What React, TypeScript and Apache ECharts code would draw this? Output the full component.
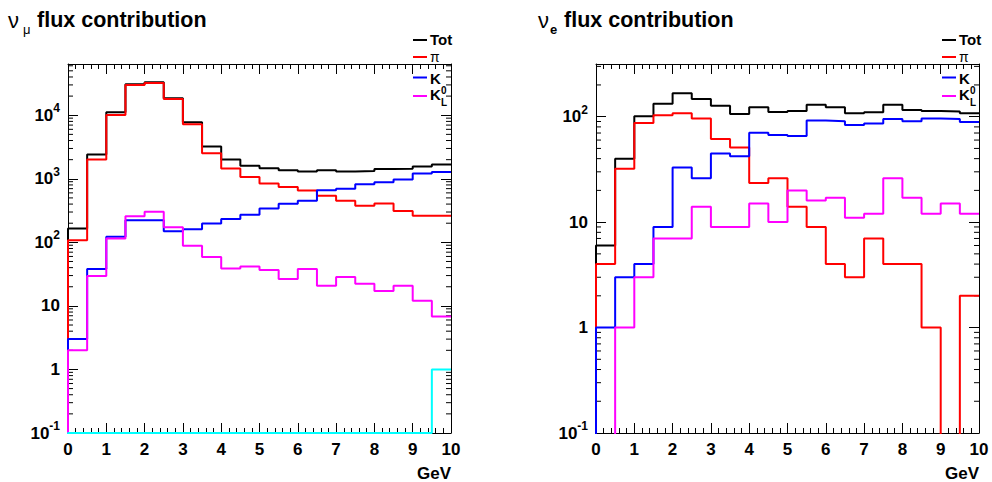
import React, { useEffect, useRef } from 'react';
import * as echarts from 'echarts';

// ---- data (bin low edges in GeV, 0.5 GeV bins) ----
const binLow = [0, 0.5, 1, 1.5, 2, 2.5, 3, 3.5, 4, 4.5, 5, 5.5, 6, 6.5, 7, 7.5, 8, 8.5, 9, 9.5];
const binHigh = 10;

// nu_mu panel
const numuTot = [165, 2410, 11100, 30700, 33000, 18500, 7760, 3220, 2010, 1600, 1470, 1365, 1300, 1365, 1300, 1330, 1430, 1440, 1560, 1680];
const numuPi = [108, 2010, 10100, 30000, 32200, 18000, 7210, 2530, 1450, 1070, 844, 746, 655, 540, 450, 375, 409, 310, 261, 261];
const numuK = [3, 38, 122, 223, 223, 150, 160, 198, 234, 271, 341, 403, 450, 662, 694, 822, 885, 975, 1210, 1280];
const numuK0L = [2, 29.5, 115, 258, 302, 173, 88, 59, 38.9, 41.8, 36.6, 26.4, 38, 20.7, 28.4, 22.3, 17.1, 20.7, 12, 6.84];
const numuOther = [0.1, 0.1, 0.1, 0.1, 0.1, 0.1, 0.1, 0.1, 0.1, 0.1, 0.1, 0.1, 0.1, 0.1, 0.1, 0.1, 0.1, 0.1, 0.1, 1];

// nu_e panel
const nueTot = [6, 40, 101, 133, 167, 147, 127, 106, 123, 111, 113, 130, 123, 108, 110, 130, 116, 113, 112, 108];
const nuePi = [4, 32, 87, 103, 108, 96, 61.5, 51, 23.5, 26, 14, 9, 4, 3, 7, 4, 4, 1, 0, 2];
const nueK = [1, 3, 4, 9, 33, 26, 44.7, 42.2, 70.6, 67.1, 65.7, 91.9, 90.6, 83.5, 86, 95.3, 90.6, 96, 95, 89];
const nueK0L = [0, 1, 3, 7, 7, 14, 9, 9, 15, 10, 20, 16, 17, 11, 12, 26, 17, 12, 15, 12];

const legendNames = ['Tot', 'π', 'K', 'K'];
const legendColors = ['#000000', '#ff0000', '#0000ff', '#ff00ff'];
const otherColor = '#00ffff';

const yMinBoth = 0.1;
const yMaxLeft = 64000;
const yMaxRight = 316;
const xMin = 0;
const xMax = 10;

const FONT = '"Liberation Sans", Arial, Helvetica, sans-serif';

function stepData(vals: number[]) {
  const below = 0.01; // empty bins fall below the frame, as ROOT clips them
  const pts: number[][] = [[binLow[0], below]];
  vals.forEach((v, i) => pts.push([binLow[i], v > 0 ? v : below]));
  const last = vals[vals.length - 1];
  pts.push([binHigh, last > 0 ? last : below]);
  return pts;
}

function yLabel(v: number) {
  const e = Math.log10(v);
  const r = Math.round(e);
  if (Math.abs(e - r) > 1e-6) return '';
  if (r === 0) return '{b|1}';
  if (r === 1) return '{b|10}';
  return '{b|10}{s|' + r + '}';
}

function minorVals(max: number) {
  const out: number[][] = [];
  for (let d = -1; d <= 5; d++) {
    for (let m = 2; m <= 9; m++) {
      const v = m * Math.pow(10, d);
      if (v > yMinBoth && v < max) out.push([xMin, v]);
    }
  }
  return out;
}

const App: React.FC = () => {
  const ref = useRef<HTMLDivElement>(null);
  useEffect(() => {
    if (!ref.current) return;
    const chart = echarts.init(ref.current, undefined, { renderer: 'svg' });

    const gridDefs = [
      { left: 68, top: 64, width: 383, height: 369 },
      { left: 596, top: 64, width: 383, height: 369 },
    ];
    const axisLineStyle = { color: '#000', width: 1 };

    const xAxes: any[] = [];
    const yAxes: any[] = [];
    [0, 1].forEach((g) => {
      const yMax = g === 0 ? yMaxLeft : yMaxRight;
      xAxes.push({
        type: 'value', gridIndex: g, position: 'bottom', min: xMin, max: xMax, interval: 1,
        axisLine: { show: true, onZero: false, lineStyle: axisLineStyle },
        axisTick: { show: true, inside: true, length: 10, lineStyle: { color: '#000', width: 1 } },
        minorTick: { show: true, splitNumber: 5, length: 5, lineStyle: { color: '#000', width: 1 } },
        splitLine: { show: false },
        axisLabel: { show: true, margin: 8, color: '#000', fontFamily: FONT, fontWeight: 'bold', fontSize: 17 },
        name: 'GeV', nameLocation: 'end', nameGap: 0,
        nameTextStyle: { color: '#000', fontFamily: FONT, fontWeight: 'bold', fontSize: 17, align: 'right', verticalAlign: 'top', padding: [32, 0, 0, 0] },
      });
      xAxes.push({
        type: 'value', gridIndex: g, position: 'top', min: xMin, max: xMax, interval: 1,
        axisLine: { show: true, onZero: false, lineStyle: axisLineStyle },
        axisTick: { show: true, inside: true, length: 10, lineStyle: { color: '#000', width: 1 } },
        minorTick: { show: true, splitNumber: 5, length: 5, lineStyle: { color: '#000', width: 1 } },
        splitLine: { show: false },
        axisLabel: { show: false },
      });
      yAxes.push({
        type: 'log', logBase: 10, gridIndex: g, position: 'left', min: yMinBoth, max: yMax, interval: 1,
        axisLine: { show: true, onZero: false, lineStyle: axisLineStyle },
        axisTick: { show: true, inside: true, length: 10, lineStyle: { color: '#000', width: 1 } },
        splitLine: { show: false },
        axisLabel: {
          show: true, margin: 8, showMaxLabel: false,
          formatter: yLabel,
          rich: {
            b: { fontFamily: FONT, fontWeight: 'bold', fontSize: 17, lineHeight: 26, color: '#000' },
            s: { fontFamily: FONT, fontWeight: 'bold', fontSize: 12, lineHeight: 12, verticalAlign: 'top', color: '#000' },
          },
        },
      });
      yAxes.push({
        type: 'log', logBase: 10, gridIndex: g, position: 'right', min: yMinBoth, max: yMax, interval: 1,
        axisLine: { show: true, onZero: false, lineStyle: axisLineStyle },
        axisTick: { show: true, inside: true, length: 10, lineStyle: { color: '#000', width: 1 } },
        splitLine: { show: false },
        axisLabel: { show: false },
      });
    });

    const mk = (name: string, vals: number[], color: string, g: number, z: number) => ({
      type: 'line', name, step: 'end', data: stepData(vals),
      xAxisIndex: g * 2, yAxisIndex: g * 2,
      symbol: 'none', showSymbol: false, clip: true, silent: true, z,
      lineStyle: { color, width: 2 },
    });

    const minorTickSeries = (g: number, max: number) => ({
      type: 'custom', xAxisIndex: g * 2, yAxisIndex: g * 2, silent: true, clip: false, z: 1,
      data: minorVals(max),
      renderItem: (params: any, api: any) => {
        const v = api.value(1);
        const pl = api.coord([xMin, v]);
        const pr = api.coord([xMax, v]);
        return {
          type: 'group',
          children: [
            { type: 'line', shape: { x1: pl[0], y1: pl[1], x2: pl[0] + 5, y2: pl[1] }, style: { stroke: '#000', lineWidth: 1 } },
            { type: 'line', shape: { x1: pr[0], y1: pr[1], x2: pr[0] - 5, y2: pr[1] }, style: { stroke: '#000', lineWidth: 1 } },
          ],
        };
      },
    });

    const series: any[] = [
      minorTickSeries(0, yMaxLeft),
      minorTickSeries(1, yMaxRight),
      mk('Tot', numuTot, legendColors[0], 0, 3),
      mk('π', numuPi, legendColors[1], 0, 4),
      mk('K', numuK, legendColors[2], 0, 5),
      mk('K0L', numuK0L, legendColors[3], 0, 6),
      mk('other', numuOther, otherColor, 0, 7),
      mk('Tot', nueTot, legendColors[0], 1, 3),
      mk('π', nuePi, legendColors[1], 1, 4),
      mk('K', nueK, legendColors[2], 1, 5),
      mk('K0L', nueK0L, legendColors[3], 1, 6),
    ];

    const legendGraphic = (x0: number) => {
      const ys = [40, 57, 77.5, 96];
      const textY = [39.5, 56.5, 78, 94];
      const sizes = [15, 14, 15, 15];
      const els: any[] = [];
      legendNames.forEach((n, i) => {
        els.push({ type: 'line', shape: { x1: x0, y1: ys[i], x2: x0 + 14, y2: ys[i] }, style: { stroke: legendColors[i], lineWidth: 2 } });
        els.push({
          type: 'text', x: x0 + 17, y: textY[i],
          style: { text: n, fill: '#000', font: (i === 1 ? 'normal ' : 'bold ') + sizes[i] + 'px ' + FONT, verticalAlign: 'middle', align: 'left' },
        });
      });
      els.push({ type: 'text', x: x0 + 28, y: 90, style: { text: '0', fill: '#000', font: 'bold 10px ' + FONT, verticalAlign: 'middle', align: 'left' } });
      els.push({ type: 'text', x: x0 + 28, y: 102, style: { text: 'L', fill: '#000', font: 'bold 10px ' + FONT, verticalAlign: 'middle', align: 'left' } });
      return els;
    };

    const titleGraphic = (x: number, sub: string, subX: number, fluxX: number, subBold: boolean) => [
      { type: 'text', x, y: 20, style: { text: 'ν', fill: '#000', font: 'normal 22px ' + FONT, verticalAlign: 'middle', align: 'left' } },
      { type: 'text', x: subX, y: 29.5, style: { text: sub, fill: '#000', font: (subBold ? 'bold ' : 'normal ') + '13px ' + FONT, verticalAlign: 'middle', align: 'left' } },
      { type: 'text', x: fluxX, y: 20, style: { text: 'flux contribution', fill: '#000', font: 'bold 21.5px ' + FONT, verticalAlign: 'middle', align: 'left' } },
    ];

    chart.setOption({
      animation: false,
      backgroundColor: '#ffffff',
      grid: gridDefs.map((g) => ({ ...g, show: false, containLabel: false })),
      xAxis: xAxes,
      yAxis: yAxes,
      series,
      graphic: [
        ...titleGraphic(8, 'μ', 23, 37, false),
        ...titleGraphic(538, 'e', 550, 564, true),
        ...legendGraphic(413),
        ...legendGraphic(942),
      ],
    });
    return () => chart.dispose();
  }, []);
  return <div ref={ref} style={{ position: 'fixed', left: 0, top: 0, width: 992, height: 482, background: '#fff' }} />;
};

export default App;
